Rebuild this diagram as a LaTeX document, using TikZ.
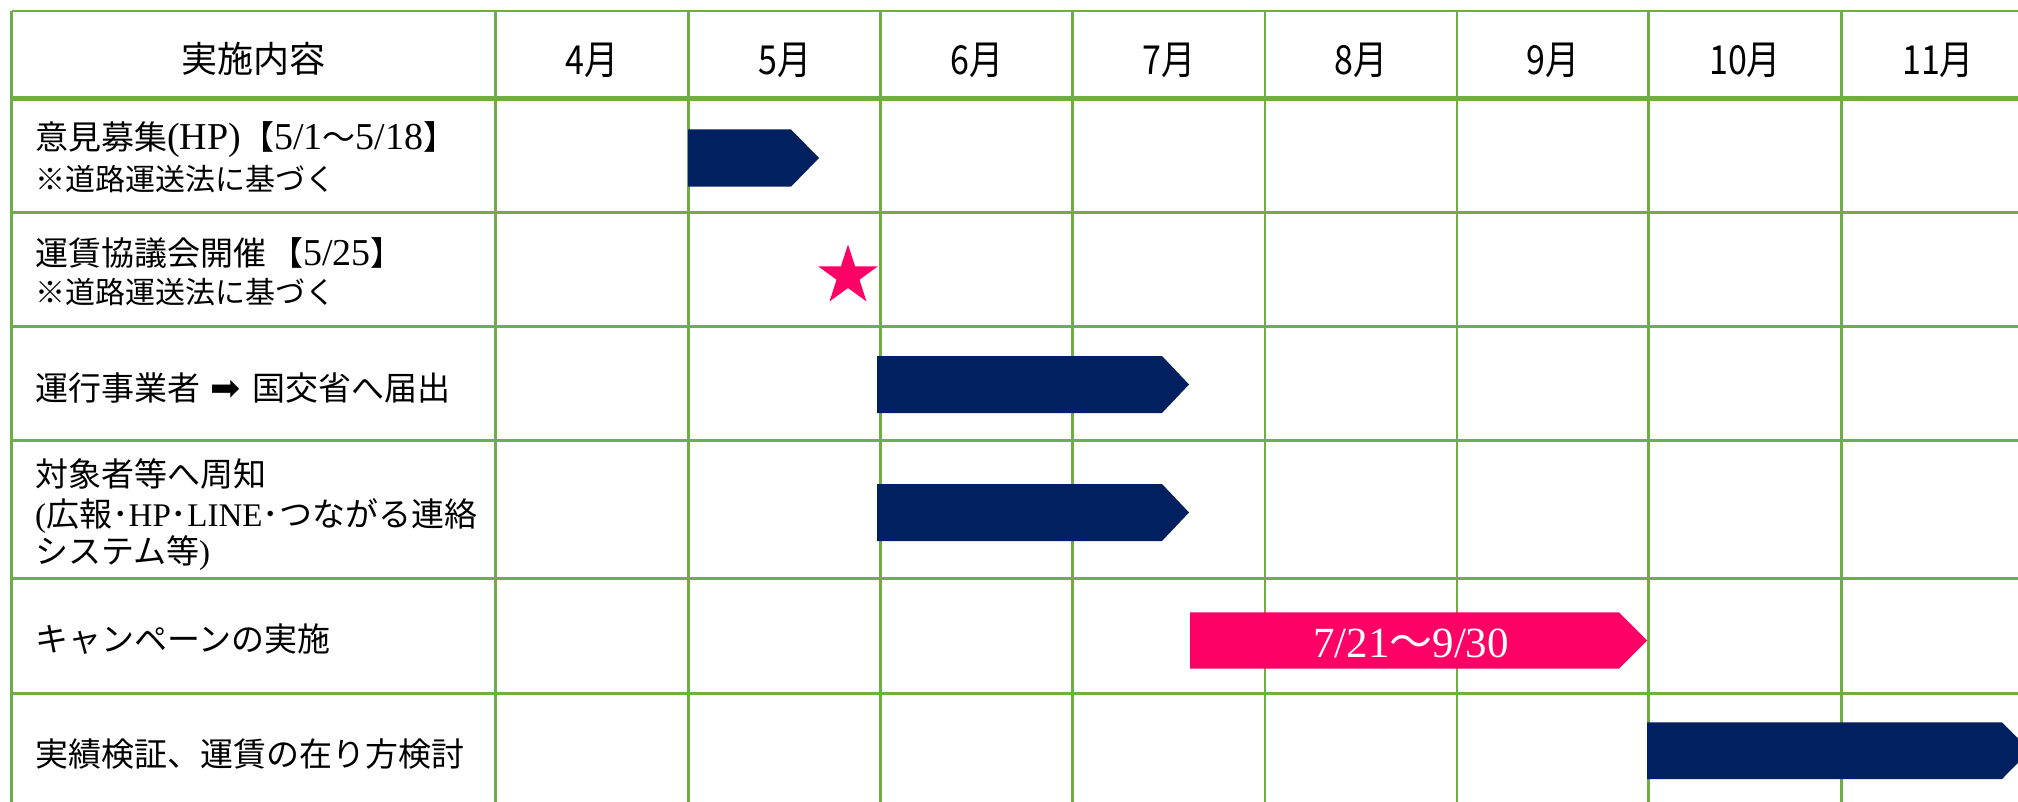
\documentclass[tikz,border=0pt]{standalone}
\usepackage{fontspec}
\setmainfont{Noto Sans CJK JP}
\newfontfamily\lat{Liberation Serif}
\newfontfamily\sym{DejaVu Sans}
\newfontfamily\mon[FakeStretch=0.85]{Noto Sans CJK JP}
\usetikzlibrary{shapes.geometric}
\definecolor{gridgreen}{HTML}{70AD47}
\definecolor{navyblue}{HTML}{002060}
\definecolor{hotpink}{HTML}{FF0066}
\tikzset{
  gridline/.style={draw=gridgreen, line width=2.6pt},
  headline/.style={draw=gridgreen, line width=5.5pt},
  navybar/.style={fill=navyblue},
  pinkbar/.style={fill=hotpink},
  lab/.style={anchor=base west, inner sep=0pt, font=\fontsize{33}{40}\selectfont},
  notelab/.style={anchor=base west, inner sep=0pt, font=\fontsize{30}{35}\selectfont},
  monthlab/.style={anchor=base, inner sep=0pt, font=\mon\fontsize{40}{48}\selectfont},
}
\begin{document}
\begin{tikzpicture}[x=1pt,y=-1pt]
\useasboundingbox (0,0) rectangle (2018,802);
\fill[white] (0,0) rectangle (2018,802);
\clip (0,0) rectangle (2018,802);
% grid
\foreach \yy in {11,212.4,326.7,440.7,578.5,693.7}
  \draw[gridline] (11.7,\yy) -- (2040,\yy);
\draw[headline] (11.7,98.3) -- (2040,98.3);
\foreach \xx in {11.7,495.4,688.5,880.5,1072.5,1265,1457,1648.6,1841.5}
  \draw[gridline] (\xx,11) -- (\xx,812);
% header
\node[anchor=base, inner sep=0pt, font=\fontsize{36}{40}\selectfont] (hdr) at (253,73) {実施内容};
\node[monthlab] (m4) at (592,75) {4月};
\node[monthlab] (m5) at (785,75) {5月};
\node[monthlab] (m6) at (977,75) {6月};
\node[monthlab] (m7) at (1169,75) {7月};
\node[monthlab] (m8) at (1361,75) {8月};
\node[monthlab] (m9) at (1553,75) {9月};
\node[monthlab] (m10) at (1745,75) {10月};
\node[monthlab] (m11) at (1938,75) {11月};
% row labels
\node[lab] (r1a) at (35,150) {意見募集{\lat\fontsize{38}{40}\selectfont (HP)}【{\lat\fontsize{38}{40}\selectfont 5/1}～{\lat\fontsize{38}{40}\selectfont 5/18}】};
\node[notelab] (r1b) at (35,191) {※道路運送法に基づく};
\node[lab] (r2a) at (35,266) {運賃協議会開催\hspace{4pt}【{\lat\fontsize{38}{40}\selectfont 5/25}】};
\node[notelab] (r2b) at (35,303) {※道路運送法に基づく};
\node[lab] (r3) at (35,400) {運行事業者\hspace{10pt}{\sym\fontsize{36}{36}\selectfont ➡}\hspace{12pt}国交省へ届出};
\node[lab] (r4a) at (35,486) {対象者等へ周知};
\node[lab] (r4b) at (35,526) {{\lat (}広報･{\lat HP}･{\lat LINE}･つながる連絡};
\node[lab] (r4c) at (35,563) {システム等{\lat )}};
\node[lab] (r5) at (35,651) {キャンペーンの実施};
\node[lab] (r6) at (35,766) {実績検証、運賃の在り方検討};
% bars
\fill[navybar] (688,129.5) -- (791,129.5) -- (819,158) -- (791,186.7) -- (688,186.7) -- cycle;
\node[star, star points=5, star point ratio=2.618, fill=hotpink, minimum size=63pt, inner sep=0pt] (star) at (848,276) {};
\fill[navybar] (877,356) -- (1162,356) -- (1189,384.5) -- (1162,413) -- (877,413) -- cycle;
\fill[navybar] (877,484) -- (1162,484) -- (1189,512.5) -- (1162,541) -- (877,541) -- cycle;
\fill[pinkbar] (1190,612.3) -- (1619,612.3) -- (1647,640.5) -- (1619,668.7) -- (1190,668.7) -- cycle;
\node[anchor=base, inner sep=0pt, text=white, font=\lat\fontsize{43}{48}\selectfont] (camp) at (1411,657) {7/21{\rmfamily ～}9/30};
\fill[navybar] (1647,722.3) -- (2002,722.3) -- (2030,750.6) -- (2002,779) -- (1647,779) -- cycle;
\end{tikzpicture}
\end{document}
